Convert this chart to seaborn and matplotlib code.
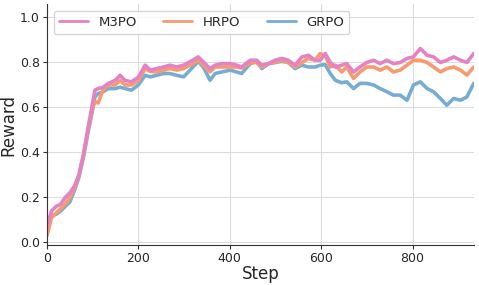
import matplotlib
matplotlib.use("Agg")
import matplotlib.pyplot as plt
import seaborn as sns
import pandas as pd

steps = [0, 10, 20, 30, 40, 50, 60, 70, 80, 90, 100, 105, 112, 123, 134, 149, 160, 171, 185, 200,
         215, 226, 240, 255, 269, 284, 299, 313, 331, 342, 357, 368, 383, 401, 415, 426, 445, 459,
         470, 485, 499, 514, 528, 543, 558, 572, 587, 598, 609, 620, 631, 645, 656, 671, 685, 700,
         715, 729, 744, 758, 773, 788, 802, 817, 832, 846, 861, 875, 890, 905, 919, 934]

m3po = [0.07, 0.14, 0.16, 0.17, 0.20, 0.22, 0.25, 0.30, 0.39, 0.51, 0.62, 0.677, 0.684, 0.69, 0.707,
        0.72, 0.743, 0.72, 0.714, 0.735, 0.788, 0.766, 0.773, 0.78, 0.788, 0.78, 0.788, 0.803, 0.825,
        0.803, 0.773, 0.788, 0.795, 0.795, 0.788, 0.78, 0.81, 0.81, 0.788, 0.795, 0.81, 0.818, 0.81,
        0.788, 0.825, 0.832, 0.81, 0.81, 0.84, 0.80, 0.78, 0.788, 0.795, 0.758, 0.78, 0.80, 0.81,
        0.795, 0.81, 0.795, 0.80, 0.818, 0.825, 0.862, 0.832, 0.825, 0.80, 0.81, 0.825, 0.81, 0.80,
        0.84]

hrpo = [0.03, 0.11, 0.13, 0.15, 0.17, 0.20, 0.24, 0.30, 0.39, 0.50, 0.60, 0.625, 0.62, 0.68, 0.70,
        0.70, 0.72, 0.70, 0.70, 0.72, 0.773, 0.76, 0.758, 0.766, 0.773, 0.766, 0.773, 0.788, 0.81,
        0.79, 0.758, 0.78, 0.78, 0.78, 0.78, 0.775, 0.80, 0.80, 0.78, 0.795, 0.80, 0.81, 0.80, 0.78,
        0.80, 0.818, 0.81, 0.84, 0.83, 0.78, 0.788, 0.758, 0.78, 0.729, 0.758, 0.78, 0.78, 0.766,
        0.78, 0.758, 0.766, 0.788, 0.81, 0.81, 0.80, 0.78, 0.758, 0.773, 0.78, 0.766, 0.744, 0.78]

grpo = [0.07, 0.12, 0.125, 0.14, 0.16, 0.18, 0.23, 0.29, 0.38, 0.49, 0.59, 0.647, 0.662, 0.67, 0.684,
        0.684, 0.69, 0.684, 0.677, 0.70, 0.743, 0.736, 0.743, 0.751, 0.751, 0.743, 0.736, 0.766, 0.805,
        0.78, 0.721, 0.751, 0.758, 0.766, 0.758, 0.751, 0.795, 0.805, 0.773, 0.795, 0.80, 0.805, 0.80,
        0.773, 0.788, 0.78, 0.78, 0.788, 0.79, 0.751, 0.721, 0.71, 0.714, 0.684, 0.707, 0.707, 0.70,
        0.684, 0.67, 0.655, 0.655, 0.632, 0.70, 0.714, 0.684, 0.67, 0.64, 0.61, 0.64, 0.632, 0.647,
        0.707]

methods = ["M3PO", "HRPO", "GRPO"]
colors = {"M3PO": "#e482c3", "HRPO": "#f79a70", "GRPO": "#78add3"}

df = pd.concat([
    pd.DataFrame({"Step": steps, "Reward": vals, "Method": name})
    for name, vals in zip(methods, [m3po, hrpo, grpo])
])

sns.set_style("whitegrid", {
    "axes.edgecolor": "0.2",
    "grid.color": "#dcdcdc",
    "xtick.bottom": True,
    "ytick.left": True,
})
plt.rcParams["font.family"] = ["DejaVu Sans"]

fig = plt.figure(figsize=(4.79, 2.85), dpi=100)
ax = fig.add_axes([0.098, 0.139, 0.892, 0.847])

# draw in reverse order so M3PO ends up on top
for name in ["GRPO", "HRPO", "M3PO"]:
    sns.lineplot(data=df[df["Method"] == name], x="Step", y="Reward", color=colors[name],
                 linewidth=2.6, ax=ax, label=name, legend=False)

ax.set_xlim(0, 935)
ax.set_ylim(-0.013, 1.06)
ax.set_xticks([0, 200, 400, 600, 800])
ax.set_yticks([0.0, 0.2, 0.4, 0.6, 0.8, 1.0])
ax.tick_params(labelsize=9, length=3, width=0.8, color="0.2", pad=2)
ax.set_xlabel("Step", fontsize=12, labelpad=0)
ax.set_ylabel("Reward", fontsize=12, labelpad=2)
ax.grid(True, linewidth=0.8)
sns.despine(ax=ax)

handles, labels = ax.get_legend_handles_labels()
order = [labels.index(m) for m in methods]
leg = ax.legend([handles[i] for i in order], [labels[i] for i in order], loc="upper left",
                ncol=3, fontsize=9.5, frameon=True, borderaxespad=0.5, columnspacing=2.0,
                handlelength=2.2, bbox_to_anchor=(0.0, 1.0))
for h in leg.get_lines():
    h.set_linewidth(2)

fig.savefig("out.png", dpi=100)
